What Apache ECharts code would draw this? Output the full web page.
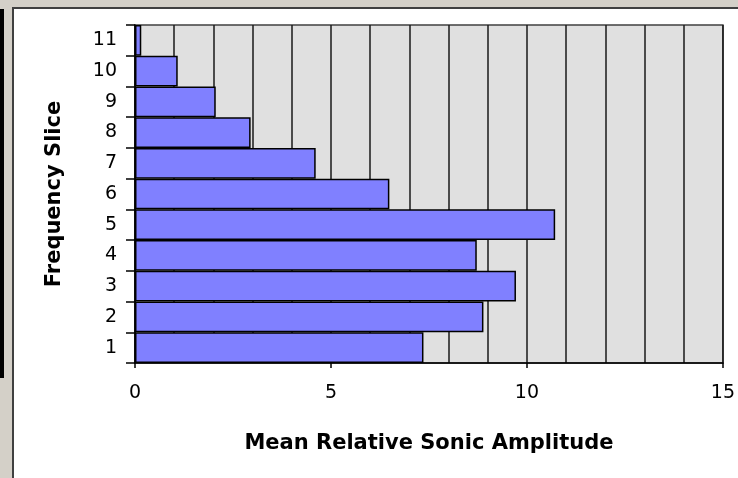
<!DOCTYPE html>
<html>
<head>
<meta charset="utf-8">
<script src="https://cdn.jsdelivr.net/npm/echarts@6/dist/echarts.min.js"></script>
<style>
  html, body { margin: 0; padding: 0; background: #ffffff; }
  #chart { width: 738px; height: 478px; }
</style>
</head>
<body>
<div id="chart"></div>
<script>
// Frequency slices (bottom to top) and their mean relative sonic amplitude
const slices = ['1', '2', '3', '4', '5', '6', '7', '8', '9', '10', '11'];
const amplitudes = [7.36, 8.89, 9.72, 8.72, 10.72, 6.49, 4.61, 2.95, 2.06, 1.09, 0.16];
const xTickLabels = [0, 5, 10, 15];

const chart = echarts.init(document.getElementById('chart'), null, { renderer: 'canvas' });

const labelFont = 'DejaVu Sans, Verdana, sans-serif';

chart.setOption({
  animation: false,
  backgroundColor: '#ffffff',
  // window-style frame around the chart area
  graphic: [
    { type: 'rect', shape: { x: 0, y: 0, width: 738, height: 7 }, style: { fill: '#D4D0C8' }, silent: true },
    { type: 'rect', shape: { x: 0, y: 0, width: 12, height: 478 }, style: { fill: '#D4D0C8' }, silent: true },
    { type: 'rect', shape: { x: 0, y: 9, width: 4, height: 369 }, style: { fill: '#000000' }, silent: true },
    { type: 'rect', shape: { x: 12, y: 7, width: 726, height: 2 }, style: { fill: '#404040' }, silent: true },
    { type: 'rect', shape: { x: 12, y: 7, width: 2, height: 471 }, style: { fill: '#404040' }, silent: true }
  ],
  grid: {
    left: 135, top: 25, right: 14, bottom: 115,
    show: true,
    backgroundColor: '#E0E0E0',
    borderColor: '#404040',
    borderWidth: 1.5
  },
  xAxis: {
    type: 'value',
    min: 0, max: 15, interval: 5,
    name: 'Mean Relative Sonic Amplitude',
    nameLocation: 'middle',
    nameGap: 70,
    nameTextStyle: { fontFamily: labelFont, fontWeight: 'bold', fontSize: 21, color: '#000' },
    axisLine: { show: true, lineStyle: { color: '#000', width: 1.5 } },
    axisTick: { show: true, length: 5, lineStyle: { color: '#000', width: 1.5 } },
    axisLabel: {
      fontFamily: labelFont, fontSize: 19, color: '#000', margin: 21,
      customValues: xTickLabels
    },
    splitLine: { show: true, lineStyle: { color: '#1a1a1a', width: 1.5 } },
    minorTick: { show: false, splitNumber: 5 },
    minorSplitLine: { show: true, lineStyle: { color: '#1a1a1a', width: 1.5 } }
  },
  yAxis: {
    type: 'category',
    data: slices,
    boundaryGap: true,
    name: 'Frequency Slice',
    nameLocation: 'middle',
    nameGap: 70,
    nameRotate: 90,
    nameTextStyle: { fontFamily: labelFont, fontWeight: 'bold', fontSize: 21, color: '#000' },
    axisLine: { show: true, lineStyle: { color: '#000', width: 1.5 } },
    axisTick: { show: true, length: 9, alignWithLabel: false, lineStyle: { color: '#000', width: 1.5 } },
    axisLabel: { fontFamily: labelFont, fontSize: 19, color: '#000', margin: 18 },
    splitLine: { show: false }
  },
  series: [{
    type: 'bar',
    data: amplitudes,
    barCategoryGap: '0%',
    itemStyle: { color: '#8080FF', borderColor: '#000', borderWidth: 1.5 }
  }]
});
</script>
</body>
</html>
